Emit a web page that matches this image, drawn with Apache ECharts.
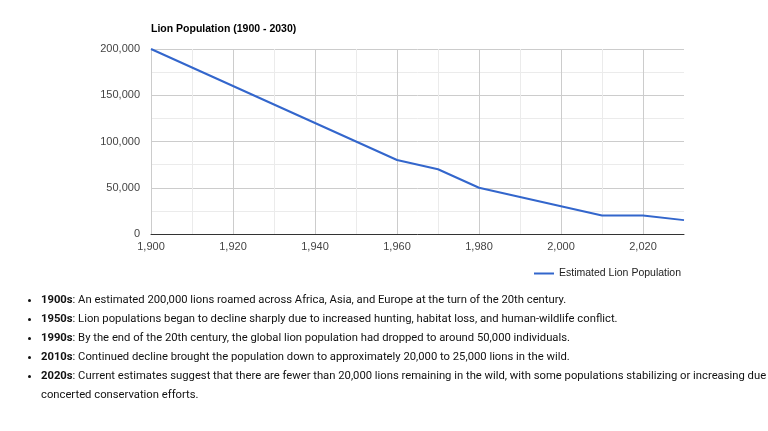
<!DOCTYPE html>
<html><head><meta charset="utf-8">
<script src="https://cdn.jsdelivr.net/npm/echarts@6/dist/echarts.min.js"></script>
<style>
html,body{margin:0;padding:0;background:#fff;}
#chart{position:absolute;left:0;top:0;width:768px;height:431px;}
#notes{position:absolute;left:0;top:290px;width:768px;margin:0;padding:0 0 0 41px;box-sizing:border-box;
 font-family:Roboto,"Liberation Sans",sans-serif;font-size:11.25px;line-height:19px;color:#111;}
#notes li{margin:0;padding:0;}
</style></head>
<body>
<div id="chart"></div>
<ul id="notes">
<li><b>1900s</b>: An estimated 200,000 lions roamed across Africa, Asia, and Europe at the turn of the 20th century.</li>
<li><b>1950s</b>: Lion populations began to decline sharply due to increased hunting, habitat loss, and human-wildlife conflict.</li>
<li><b>1990s</b>: By the end of the 20th century, the global lion population had dropped to around 50,000 individuals.</li>
<li><b>2010s</b>: Continued decline brought the population down to approximately 20,000 to 25,000 lions in the wild.</li>
<li><b>2020s</b>: Current estimates suggest that there are fewer than 20,000 lions remaining in the wild, with some populations stabilizing or increasing due concerted conservation efforts.</li>
</ul>
<script>
const years = [1900, 1960, 1970, 1980, 1990, 2000, 2010, 2020, 2030];
const population = [200000, 80000, 70000, 50000, 40000, 30000, 20000, 20000, 15000];
const seriesName = 'Estimated Lion Population';
const titleText = 'Lion Population (1900 - 2030)';

const fmt = v => Number(v).toLocaleString('en-US');
const chart = echarts.init(document.getElementById('chart'));
chart.setOption({
  animation: false,
  textStyle: {fontFamily: 'Liberation Sans, Arial, sans-serif'},
  title: {text: titleText, left: 146, top: 19,
    textStyle: {fontSize: 10.5, fontWeight: 'bold', color: '#000', fontFamily: 'Liberation Sans, Arial, sans-serif'}},
  legend: {right: 82, top: 263, icon: 'rect', itemWidth: 20, itemHeight: 2, itemGap: 5,
    textStyle: {fontSize: 10.5, color: '#222'}, data: [seriesName]},
  grid: {left: 151, right: 84, top: 49, bottom: 197, containLabel: false},
  xAxis: {type: 'value', min: 1900, max: 2030, interval: 10,
    axisLine: {show: true, lineStyle: {color: '#333', width: 1}},
    axisTick: {show: false},
    axisLabel: {color: '#444', fontSize: 11, margin: 7, showMaxLabel: false,
      formatter: v => ((v - 1900) % 20 === 0 && v !== 2030) ? fmt(v) : ''},
    splitLine: {show: true, showMaxLine: false, lineStyle: {color: ['#cccccc', '#ebebeb'], width: 1}}},
  yAxis: {type: 'value', min: 0, max: 200000, interval: 25000,
    axisLine: {show: false}, axisTick: {show: false},
    axisLabel: {color: '#444', fontSize: 11, margin: 11,
      formatter: v => (v % 50000 === 0) ? fmt(v) : ''},
    splitLine: {show: true, lineStyle: {color: ['#cccccc', '#ebebeb'], width: 1}}},
  series: [{name: seriesName, type: 'line', showSymbol: false, symbol: 'none',
    data: years.map((y, i) => [y, population[i]]),
    lineStyle: {color: '#3366cc', width: 2}, itemStyle: {color: '#3366cc'}}]
});
</script>
</body></html>
